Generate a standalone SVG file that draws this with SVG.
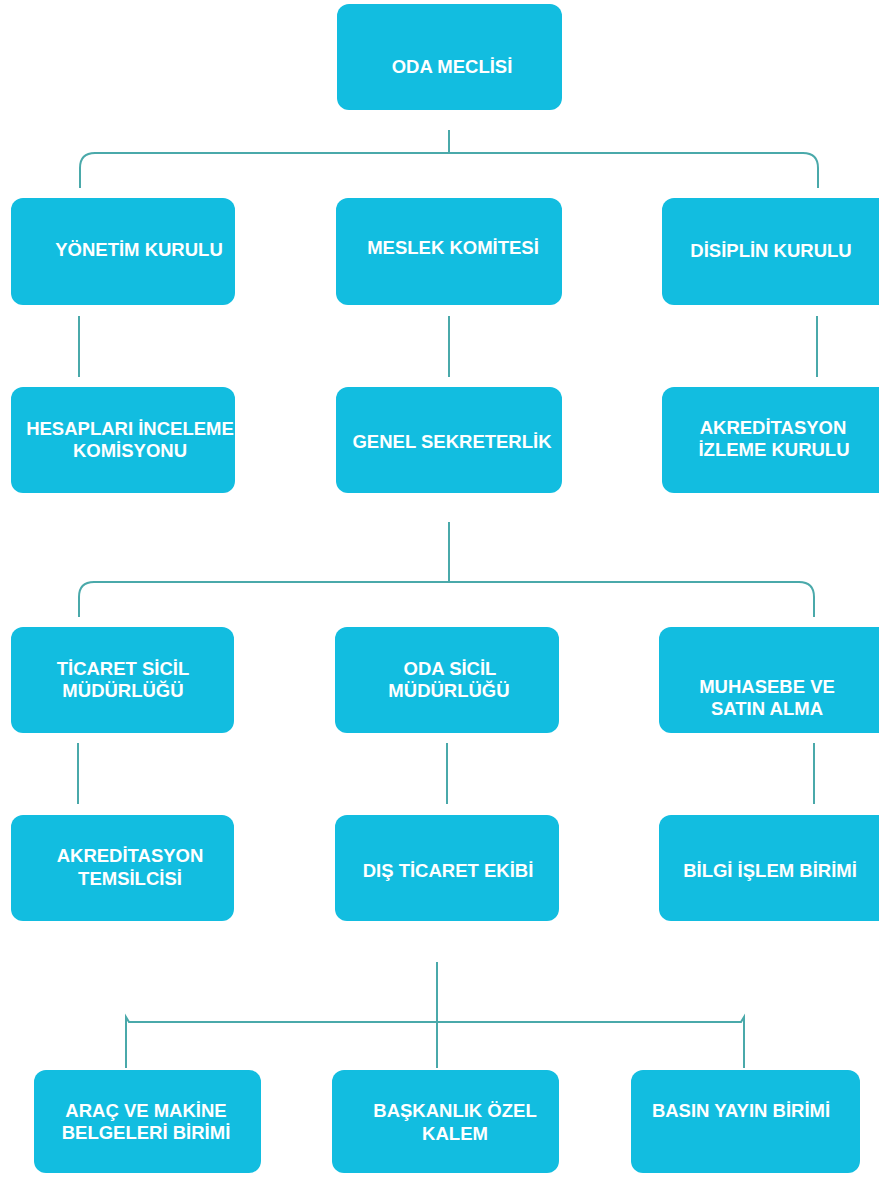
<svg xmlns="http://www.w3.org/2000/svg" width="879" height="1177" viewBox="0 0 879 1177">
<defs>
<style>
.box{fill:#12bde0;}
.t{font-family:"Liberation Sans",Arial,sans-serif;font-weight:bold;font-size:18.5px;fill:#ffffff;text-anchor:middle;}
.c{fill:none;stroke:#4aa9aa;stroke-width:2;}
</style>
</defs>
<rect width="879" height="1177" fill="#ffffff"/>
<g id="connectors">
<path class="c" d="M449,130 V153"/>
<path class="c" d="M80,188 V168 Q80,153 95,153 H803 Q818,153 818,168 V188"/>
<path class="c" d="M79,316 V377"/>
<path class="c" d="M449,316 V377"/>
<path class="c" d="M817,316 V377"/>
<path class="c" d="M449,522 V582"/>
<path class="c" d="M79,617 V597 Q79,582 94,582 H799 Q814,582 814,597 V617"/>
<path class="c" d="M78,743 V804"/>
<path class="c" d="M447,743 V804"/>
<path class="c" d="M814,743 V804"/>
<path class="c" d="M437,962 V1068"/>
<path class="c" d="M126,1068 V1017 L129,1022 H741 L744,1017 V1068"/>
</g>
<g id="n-oda-meclisi"><rect class="box" x="337" y="4" width="225" height="106" rx="12"/><text class="t" x="452" y="73">ODA MECLİSİ</text></g>
<g id="n-yonetim"><rect class="box" x="11" y="198" width="224" height="107" rx="12"/><text class="t" x="139" y="256">YÖNETİM KURULU</text></g>
<g id="n-meslek"><rect class="box" x="336" y="198" width="226" height="107" rx="12"/><text class="t" x="453" y="254">MESLEK KOMİTESİ</text></g>
<g id="n-disiplin"><rect class="box" x="662" y="198" width="230" height="107" rx="12"/><text class="t" x="771" y="257">DİSİPLİN KURULU</text></g>
<g id="n-hesaplari"><rect class="box" x="11" y="387" width="224" height="106" rx="12"/><text class="t" x="130" y="435">HESAPLARI İNCELEME</text><text class="t" x="130" y="457">KOMİSYONU</text></g>
<g id="n-genel"><rect class="box" x="336" y="387" width="226" height="106" rx="12"/><text class="t" x="452" y="448">GENEL SEKRETERLİK</text></g>
<g id="n-akreditasyon-izleme"><rect class="box" x="662" y="387" width="230" height="106" rx="12"/><text class="t" x="773" y="434">AKREDİTASYON</text><text class="t" x="774" y="456">İZLEME KURULU</text></g>
<g id="n-ticaret-sicil"><rect class="box" x="11" y="627" width="223" height="106" rx="12"/><text class="t" x="123" y="675">TİCARET SİCİL</text><text class="t" x="123" y="697">MÜDÜRLÜĞÜ</text></g>
<g id="n-oda-sicil"><rect class="box" x="335" y="627" width="224" height="106" rx="12"/><text class="t" x="450" y="675">ODA SİCİL</text><text class="t" x="449" y="697">MÜDÜRLÜĞÜ</text></g>
<g id="n-muhasebe"><rect class="box" x="659" y="627" width="233" height="106" rx="12"/><text class="t" x="767" y="693">MUHASEBE VE</text><text class="t" x="767" y="715">SATIN ALMA</text></g>
<g id="n-akreditasyon-temsilcisi"><rect class="box" x="11" y="815" width="223" height="106" rx="12"/><text class="t" x="130" y="862">AKREDİTASYON</text><text class="t" x="130" y="885">TEMSİLCİSİ</text></g>
<g id="n-dis-ticaret"><rect class="box" x="335" y="815" width="224" height="106" rx="12"/><text class="t" x="448" y="877">DIŞ TİCARET EKİBİ</text></g>
<g id="n-bilgi-islem"><rect class="box" x="659" y="815" width="233" height="106" rx="12"/><text class="t" x="770" y="877">BİLGİ İŞLEM BİRİMİ</text></g>
<g id="n-arac"><rect class="box" x="34" y="1070" width="227" height="103" rx="12"/><text class="t" x="146" y="1117">ARAÇ VE MAKİNE</text><text class="t" x="146" y="1139">BELGELERİ BİRİMİ</text></g>
<g id="n-baskanlik"><rect class="box" x="332" y="1070" width="227" height="103" rx="12"/><text class="t" x="455" y="1117">BAŞKANLIK ÖZEL</text><text class="t" x="455" y="1140">KALEM</text></g>
<g id="n-basin"><rect class="box" x="631" y="1070" width="229" height="103" rx="12"/><text class="t" x="741" y="1117">BASIN YAYIN BİRİMİ</text></g>
</svg>
